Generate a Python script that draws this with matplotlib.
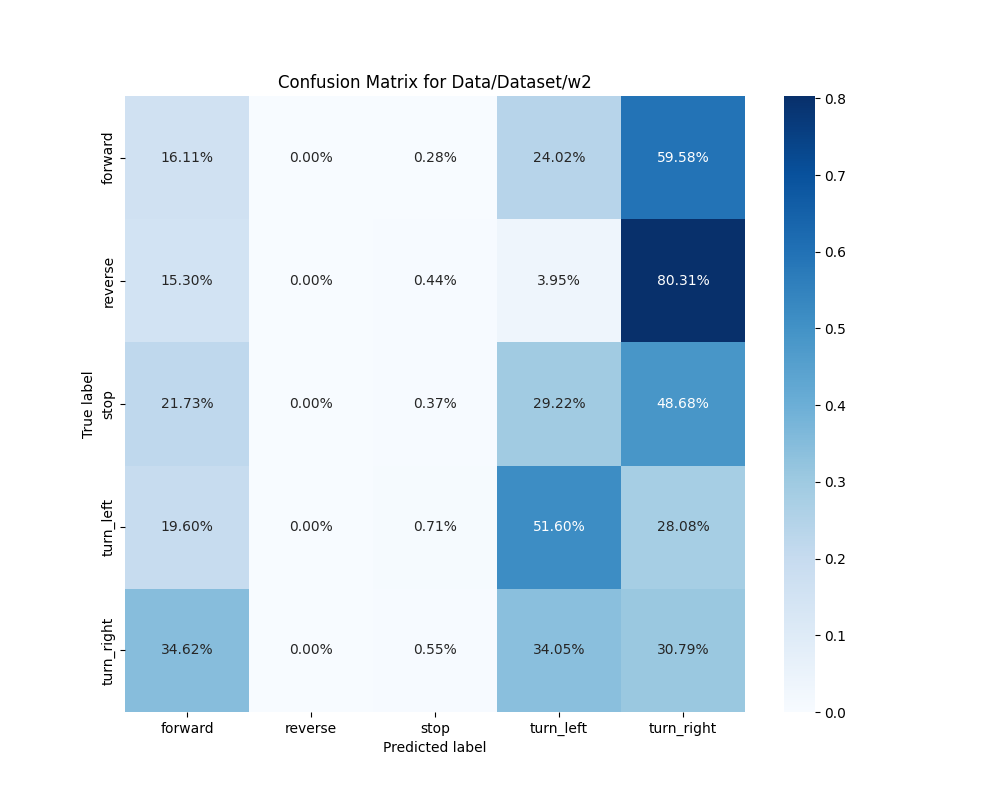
import numpy as np
import matplotlib
matplotlib.use("Agg")
import matplotlib.pyplot as plt
import seaborn as sns

labels = ["forward", "reverse", "stop", "turn_left", "turn_right"]
row_forward = [0.1611, 0.0000, 0.0028, 0.2402, 0.5958]
row_reverse = [0.1530, 0.0000, 0.0044, 0.0395, 0.8031]
row_stop = [0.2173, 0.0000, 0.0037, 0.2922, 0.4868]
row_turn_left = [0.1960, 0.0000, 0.0071, 0.5160, 0.2808]
row_turn_right = [0.3462, 0.0000, 0.0055, 0.3405, 0.3079]

cm_norm = np.array([row_forward, row_reverse, row_stop, row_turn_left, row_turn_right])

plt.figure(figsize=(10, 8))
sns.heatmap(cm_norm, annot=True, fmt=".2%", cmap="Blues",
            xticklabels=labels, yticklabels=labels)
plt.title("Confusion Matrix for Data/Dataset/w2")
plt.xlabel("Predicted label")
plt.ylabel("True label")
plt.savefig("out.png", dpi=100)
